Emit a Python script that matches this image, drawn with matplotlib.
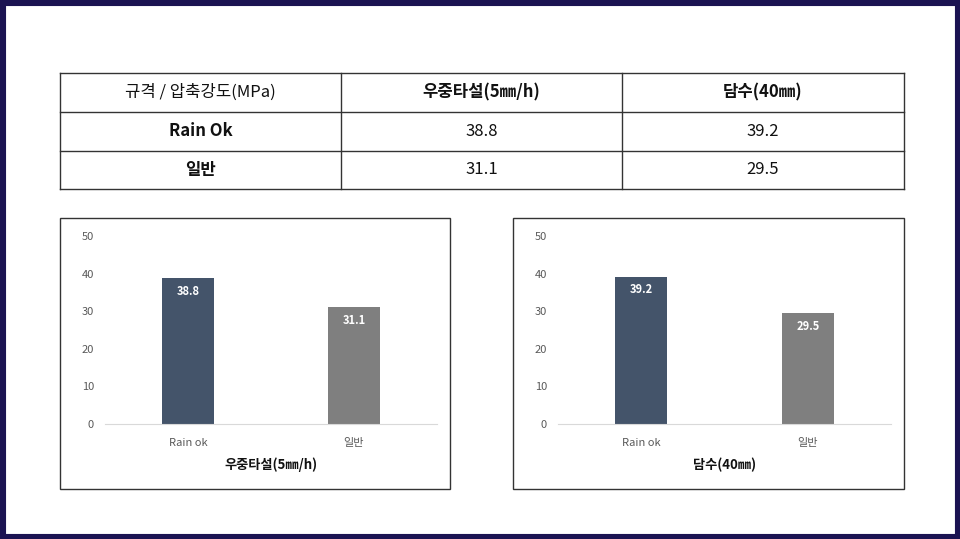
import matplotlib
matplotlib.use("Agg")
import matplotlib.pyplot as plt
from matplotlib import font_manager
from matplotlib.patches import Rectangle

cjk = sorted({f.name for f in font_manager.fontManager.ttflist
              if "CJK" in f.name and "Sans" in f.name})
kr = [n for n in cjk if "KR" in n] or cjk
plt.rcParams["font.family"] = (kr[:1] if kr else []) + ["DejaVu Sans"]

header = ["규격 / 압축강도(MPa)", "우중타설(5㎜/h)", "담수(40㎜)"]
row_names = ["Rain Ok", "일반"]
rain_values = [38.8, 31.1]
flood_values = [39.2, 29.5]
categories = ["Rain ok", "일반"]
chart_titles = ["우중타설(5㎜/h)", "담수(40㎜)"]
bar_colors = ["#44546a", "#7f7f7f"]

W, H = 960, 539
fig = plt.figure(figsize=(9.6, 5.39), dpi=100)


def rect(x0, y0, x1, y1):
    # pixel box (top-left origin) -> figure fraction rect
    return [x0 / W, (H - y1) / H, (x1 - x0) / W, (y1 - y0) / H]


# dark frame around the slide
bg = fig.add_axes([0, 0, 1, 1])
bg.set_xlim(0, W)
bg.set_ylim(H, 0)
bg.axis("off")
bg.add_patch(Rectangle((0, 0), W, H, fill=False, ec="#1b1352", lw=8))

# table
cols = [60, 341, 622, 904]
rows = [73, 112, 151, 189]
for y in rows:
    bg.plot([cols[0], cols[-1]], [y, y], color="#333333", lw=1)
for x in cols:
    bg.plot([x, x], [rows[0], rows[-1]], color="#333333", lw=1)
cells = [header,
         [row_names[0], f"{rain_values[0]}", f"{flood_values[0]}"],
         [row_names[1], f"{rain_values[1]}", f"{flood_values[1]}"]]
for r, line in enumerate(cells):
    for c, txt in enumerate(line):
        bold = (r == 0 and c > 0) or (r > 0 and c == 0)
        bg.text((cols[c] + cols[c + 1]) / 2, (rows[r] + rows[r + 1]) / 2, txt,
                ha="center", va="center", fontsize=12,
                fontweight="bold" if bold else "normal", color="#111111")

# two bar charts
boxes = [(60, 218, 450, 489), (513, 218, 904, 489)]
data = [[rain_values[0], rain_values[1]], [flood_values[0], flood_values[1]]]
for (bx0, by0, bx1, by1), vals, title in zip(boxes, data, chart_titles):
    bg.add_patch(Rectangle((bx0, by0), bx1 - bx0, by1 - by0, fill=False, ec="#333333", lw=1))
    ax = fig.add_axes(rect(bx0 + 45, 236, bx1 - 13, 424))
    ax.bar(range(len(categories)), vals, width=0.31, color=bar_colors, zorder=2)
    ax.set_xlim(-0.5, 1.5)
    ax.set_ylim(0, 50)
    ax.set_yticks(range(0, 51, 10))
    ax.set_xticks(range(len(categories)))
    ax.set_xticklabels(categories)
    ax.tick_params(length=0, labelsize=8, colors="#595959", pad=10)
    ax.tick_params(axis="y", pad=8)
    for s in ["top", "right", "left"]:
        ax.spines[s].set_visible(False)
    ax.spines["bottom"].set_color("#d9d9d9")
    for i, v in enumerate(vals):
        ax.text(i, v - 3.5, f"{v}", ha="center", va="center", color="white",
                fontsize=8, fontweight="bold")
    bg.text((bx0 + 45 + bx1 - 13) / 2, 465, title, ha="center", va="center",
            fontsize=9.5, fontweight="bold", color="#111111")

fig.savefig("out.png", dpi=100)
